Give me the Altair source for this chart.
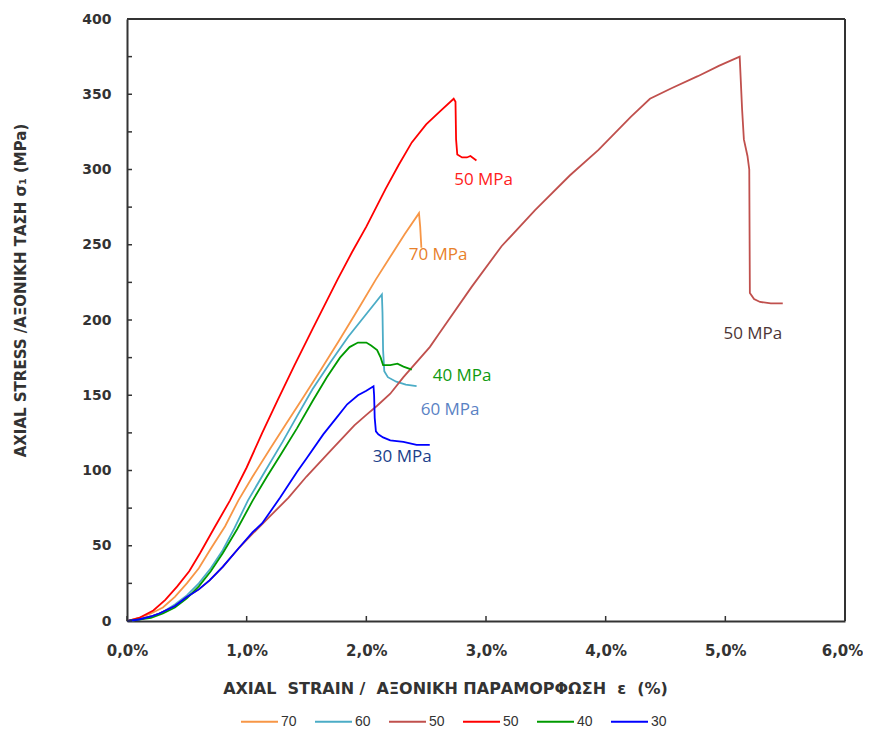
import altair as alt
import pandas as pd

# ---- data (strain in %, stress in MPa) ----
strain_70 = [0, 0.1, 0.2, 0.3, 0.4, 0.5, 0.6, 0.7, 0.82, 0.93, 1.05, 1.2, 1.33, 1.46, 1.62, 1.77, 1.93, 2.08, 2.2, 2.32, 2.44, 2.45, 2.46]
stress_70 = [0, 2, 5, 9, 16, 25, 35, 48, 63, 80, 96, 115, 131, 147, 167, 186, 207, 227, 242, 257, 271, 262, 248]

strain_60 = [0, 0.1, 0.2, 0.3, 0.4, 0.5, 0.6, 0.7, 0.8, 0.9, 1.01, 1.15, 1.3, 1.42, 1.55, 1.7, 1.85, 2.0, 2.08, 2.13, 2.135, 2.14, 2.15, 2.18, 2.25, 2.33, 2.42]
stress_60 = [0, 1, 3, 6, 11, 17, 25, 35, 47, 62, 80, 99, 119, 136, 154, 172, 189, 204, 212, 217, 205, 180, 166, 162, 159, 157, 156]

strain_50b = [0, 0.1, 0.2, 0.27, 0.4, 0.5, 0.6, 0.69, 0.8, 0.94, 1.05, 1.2, 1.35, 1.5, 1.7, 1.9, 2.0, 2.09, 2.2, 2.31, 2.53, 2.6, 2.88, 3.13, 3.41, 3.7, 3.94, 4.21, 4.37, 4.55, 4.77, 4.95, 5.12, 5.14, 5.155, 5.185, 5.2, 5.205, 5.24, 5.29, 5.38, 5.48]
stress_50b = [0, 1, 3, 5, 10, 16, 21, 27, 36, 49, 58, 70, 82, 96, 113, 130, 137, 143, 151, 162, 182, 190, 222, 249, 273, 296, 313, 335, 347, 354, 362, 369, 375, 340, 320, 309, 300, 218, 214, 212, 211, 211]

strain_50r = [0, 0.1, 0.22, 0.32, 0.42, 0.52, 0.61, 0.73, 0.86, 1.0, 1.13, 1.26, 1.40, 1.55, 1.76, 1.88, 2.0, 2.16, 2.27, 2.38, 2.50, 2.62, 2.73, 2.745, 2.75, 2.76, 2.80, 2.84, 2.87, 2.92]
stress_50r = [0, 2, 7, 14, 23, 33, 45, 62, 80, 102, 125, 147, 170, 194, 227, 245, 262, 287, 303, 318, 330, 339, 347, 345, 320, 310, 308, 308, 309, 306]

strain_40 = [0, 0.1, 0.2, 0.3, 0.4, 0.5, 0.6, 0.7, 0.8, 0.92, 1.05, 1.17, 1.28, 1.42, 1.55, 1.67, 1.78, 1.86, 1.93, 2.0, 2.04, 2.09, 2.12, 2.14, 2.2, 2.26, 2.31, 2.38]
stress_40 = [0, 1, 2, 5, 9, 15, 23, 33, 45, 61, 80, 96, 110, 128, 146, 162, 175, 182, 185, 185, 183, 180, 175, 170, 170, 171, 169, 167]

strain_30 = [0, 0.1, 0.2, 0.27, 0.4, 0.5, 0.6, 0.69, 0.8, 0.94, 1.05, 1.13, 1.28, 1.42, 1.5, 1.64, 1.75, 1.84, 1.93, 2.0, 2.06, 2.065, 2.07, 2.08, 2.1, 2.14, 2.2, 2.31, 2.42, 2.53]
stress_30 = [0, 1, 3, 5, 10, 16, 21, 27, 36, 49, 59, 65, 82, 99, 108, 124, 135, 144, 150, 153, 156, 150, 135, 126, 124, 122, 120, 119, 117, 117]

series_keys = ["70", "60", "50b", "50r", "40", "30"]
series_colors = ["#f79646", "#4bacc6", "#c0504d", "#ff0000", "#009a00", "#0000ff"]
series_data = {
    "70": (strain_70, stress_70),
    "60": (strain_60, stress_60),
    "50b": (strain_50b, stress_50b),
    "50r": (strain_50r, stress_50r),
    "40": (strain_40, stress_40),
    "30": (strain_30, stress_30),
}

label_texts = ["50 MPa", "70 MPa", "40 MPa", "60 MPa", "30 MPa", "50 MPa"]
label_x = [2.98, 2.60, 2.80, 2.70, 2.30, 5.23]
label_y = [293, 243, 163, 140, 109, 191]
label_colors = ["#ff2020", "#e8802a", "#109a10", "#5a82c4", "#203e8a", "#4d3535"]

y_tick_values = list(range(0, 401, 25))
y_label_values = list(range(0, 401, 50))
x_tick_values = [0, 1, 2, 3, 4, 5, 6]

NB = "\u00a0"
x_title = f"AXIAL{NB}{NB}STRAIN{NB}/{NB}{NB}ΑΞΟΝΙΚΗ ΠΑΡΑΜΟΡΦΩΣΗ{NB}{NB}ε{NB}{NB}(%)"
y_title = "AXIAL STRESS /ΑΞΟΝΙΚΗ ΤΑΣΗ σ₁ (MPa)"

# ---- build tables ----
rows = []
for key in series_keys:
    xs, ys = series_data[key]
    for i, (a, b) in enumerate(zip(xs, ys)):
        rows.append({"series": key, "strain": a, "stress": b, "idx": i})
df = pd.DataFrame(rows)

W, H = 718, 602
FRAME = "#333333"
xscale = alt.Scale(domain=[0, 6], nice=False, zero=True)
yscale = alt.Scale(domain=[0, 400], nice=False)

axis_font = "DejaVu Sans"

x_axis = alt.Axis(values=x_tick_values, ticks=False, domain=True, domainColor=FRAME, domainWidth=2,
                  grid=False, labelFlush=False,
                  labelOffset={"condition": {"test": "datum.value == 6", "value": -3}, "value": 0},
                  labelExpr="replace(format(datum.value, '.1f'), '.', ',') + '%'",
                  labelFont=axis_font, labelFontWeight="bold", labelFontSize=15,
                  labelColor="#333333", labelPadding=22,
                  title=x_title,
                  titleFont=axis_font, titleFontWeight="bold", titleFontSize=16,
                  titleColor="#333333", titleX=318, titleY=67, titleAlign="center",
                  titleBaseline="middle", titleAnchor="start")
y_axis = alt.Axis(values=y_label_values, ticks=False, domain=True, domainColor=FRAME, domainWidth=2,
                  grid=False, labelFlush=False,
                  labelFont=axis_font, labelFontWeight="bold", labelFontSize=14,
                  labelColor="#333333", labelPadding=16,
                  title=y_title,
                  titleFont=axis_font, titleFontWeight="bold", titleFontSize=15,
                  titleColor="#333333", titleX=-107, titleY=271, titleAlign="center",
                  titleBaseline="middle", titleAnchor="start", titleAngle=270)

lines = alt.Chart(df).mark_line(strokeWidth=1.8, interpolate="linear").encode(
    x=alt.X("strain:Q", scale=xscale, axis=x_axis),
    y=alt.Y("stress:Q", scale=yscale, axis=y_axis),
    color=alt.Color("series:N",
                    scale=alt.Scale(domain=series_keys, range=series_colors),
                    legend=alt.Legend(title=None, orient="none", direction="horizontal",
                                      legendX=113, legendY=683,
                                      labelExpr="substring(datum.label, 0, 2)",
                                      symbolType="stroke", symbolSize=1369,
                                      symbolStrokeWidth=2, labelFont="Liberation Sans",
                                      labelFontSize=14, labelColor="#333333",
                                      labelOffset=2, columnPadding=14, padding=0)),
    order=alt.Order("idx:Q"),
)

ytick_df = pd.DataFrame({"stress": y_tick_values})
yticks = alt.Chart(ytick_df).mark_rule(color=FRAME, strokeWidth=1.5).encode(
    y=alt.Y("stress:Q", scale=yscale, axis=y_axis),
    x=alt.value(0), x2=alt.value(5),
)

xtick_df = pd.DataFrame({"strain": x_tick_values})
xticks = alt.Chart(xtick_df).mark_rule(color=FRAME, strokeWidth=1.5).encode(
    x=alt.X("strain:Q", scale=xscale, axis=x_axis),
    y=alt.value(H), y2=alt.value(H - 5),
)

# top and right edges of the plot frame (left/bottom are the axis domains)
top_edge = alt.Chart(pd.DataFrame({"stress": [400]})).mark_rule(color=FRAME, strokeWidth=2).encode(
    y=alt.Y("stress:Q", scale=yscale, axis=y_axis),
    x=alt.value(0), x2=alt.value(W),
)
right_edge = alt.Chart(pd.DataFrame({"strain": [6]})).mark_rule(color=FRAME, strokeWidth=2).encode(
    x=alt.X("strain:Q", scale=xscale, axis=x_axis),
    y=alt.value(0), y2=alt.value(H),
)

text_layers = []
for t, lx, ly, c in zip(label_texts, label_x, label_y, label_colors):
    tdf = pd.DataFrame({"strain": [lx], "stress": [ly], "label": [t]})
    text_layers.append(
        alt.Chart(tdf).mark_text(font="Open Sans", fontSize=17, color=c,
                                 align="center", baseline="middle").encode(
            x=alt.X("strain:Q", scale=xscale, axis=x_axis),
            y=alt.Y("stress:Q", scale=yscale, axis=y_axis),
            text="label:N",
        )
    )

chart = alt.layer(lines, yticks, xticks, top_edge, right_edge, *text_layers).properties(
    width=W, height=H,
    background="white",
    autosize=alt.AutoSizeParams(type="none"),
    padding={"left": 119, "top": 11, "right": 18, "bottom": 110},
).configure_view(stroke=None)

chart.save("out.html", embed_options={"renderer": "svg", "actions": False})
